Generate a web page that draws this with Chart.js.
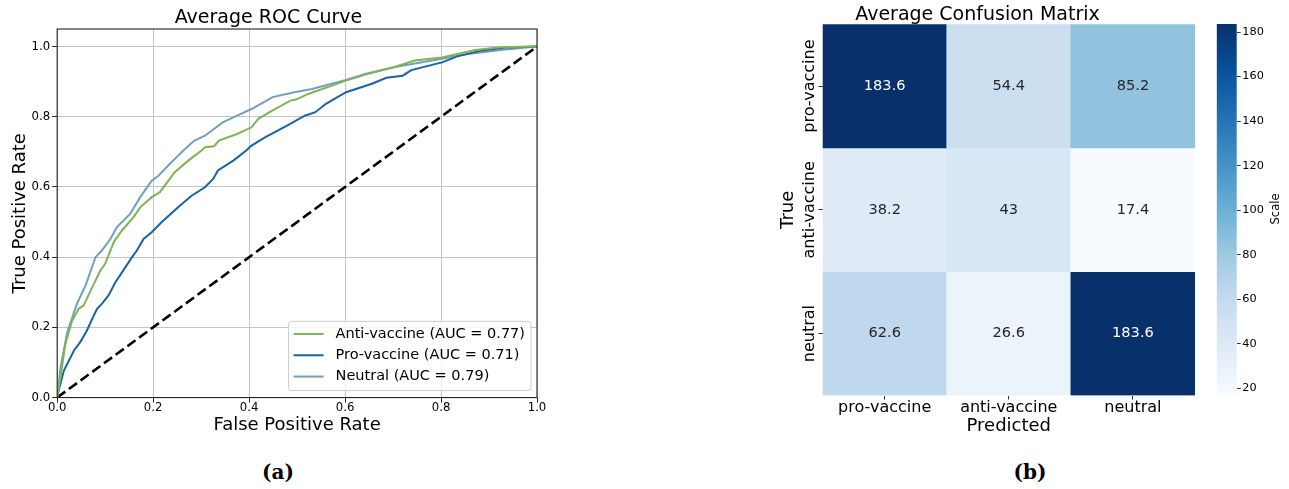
<!DOCTYPE html>
<html>
<head>
<meta charset="utf-8">
<script src="https://cdn.jsdelivr.net/npm/chart.js@4.4.1/dist/chart.umd.min.js"></script>
<style>
    body { margin: 0; width: 1289px; height: 489px; background: #fff; position: relative; overflow: hidden; }
    .box { position: absolute; }
    .cap { position: absolute; font-family: "DejaVu Serif"; font-weight: bold; font-size: 20px; transform: translate(-50%, -50%); }
</style>
</head>
<body>
<div class="box" style="left:0;top:0;width:560px;height:437px"><canvas id="rocChart"></canvas></div>
<div class="box" style="left:760px;top:0;width:445px;height:440px"><canvas id="cmChart"></canvas></div>
<div class="box" style="left:1205px;top:0;width:84px;height:440px"><canvas id="scaleChart"></canvas></div>
<div class="cap" style="left:278px;top:472px">(a)</div>
<div class="cap" style="left:1030px;top:472px">(b)</div>

<script>
// ==========================
// Data
// ==========================

const rocClasses = ["Anti-vaccine", "Pro-vaccine", "Neutral"];
const rocAuc = [0.77, 0.71, 0.79];

const antiFpr = [0, 0.007, 0.017, 0.031, 0.045, 0.055, 0.073, 0.090, 0.100, 0.118, 0.135, 0.159, 0.173, 0.197, 0.214, 0.245, 0.273, 0.301, 0.308, 0.327, 0.337, 0.375, 0.405, 0.419, 0.449, 0.486, 0.498, 0.523, 0.602, 0.642, 0.701, 0.745, 0.802, 0.871, 0.923, 1];
const antiTpr = [0, 0.058, 0.153, 0.219, 0.253, 0.262, 0.314, 0.362, 0.381, 0.443, 0.476, 0.514, 0.542, 0.571, 0.585, 0.642, 0.675, 0.704, 0.713, 0.716, 0.732, 0.751, 0.770, 0.794, 0.818, 0.846, 0.849, 0.865, 0.903, 0.920, 0.941, 0.960, 0.969, 0.990, 0.998, 1];

const proFpr = [0, 0.003, 0.014, 0.035, 0.048, 0.062, 0.073, 0.083, 0.093, 0.107, 0.121, 0.131, 0.156, 0.166, 0.180, 0.197, 0.218, 0.252, 0.280, 0.308, 0.325, 0.335, 0.367, 0.394, 0.405, 0.434, 0.479, 0.516, 0.538, 0.560, 0.602, 0.656, 0.686, 0.720, 0.738, 0.802, 0.834, 0.879, 0.935, 1];
const proTpr = [0, 0.020, 0.077, 0.134, 0.158, 0.191, 0.224, 0.253, 0.267, 0.291, 0.328, 0.348, 0.400, 0.419, 0.452, 0.471, 0.500, 0.542, 0.575, 0.599, 0.623, 0.647, 0.675, 0.704, 0.718, 0.742, 0.775, 0.803, 0.813, 0.837, 0.870, 0.894, 0.911, 0.917, 0.933, 0.955, 0.972, 0.987, 0.997, 1];

const neutralFpr = [0, 0.007, 0.021, 0.041, 0.059, 0.080, 0.093, 0.111, 0.124, 0.152, 0.173, 0.197, 0.211, 0.235, 0.249, 0.263, 0.286, 0.308, 0.345, 0.375, 0.405, 0.449, 0.494, 0.531, 0.602, 0.642, 0.701, 0.802, 0.849, 0.923, 1];
const neutralTpr = [0, 0.086, 0.186, 0.267, 0.319, 0.400, 0.419, 0.452, 0.485, 0.523, 0.571, 0.618, 0.632, 0.666, 0.685, 0.704, 0.732, 0.746, 0.784, 0.803, 0.822, 0.856, 0.870, 0.879, 0.905, 0.922, 0.941, 0.965, 0.977, 0.990, 1];

const chanceLine = [0, 1];
const rocXTicks = [0, 0.2, 0.4, 0.6, 0.8, 1.0];
const rocYTicks = [0, 0.2, 0.4, 0.6, 0.8, 1.0];

const predictedLabels = ["pro-vaccine", "anti-vaccine", "neutral"];
const trueLabels = ["pro-vaccine", "anti-vaccine", "neutral"];
const cmProRow = [183.6, 54.4, 85.2];
const cmAntiRow = [38.2, 43, 17.4];
const cmNeutralRow = [62.6, 26.6, 183.6];
const colorbarTicks = [20, 40, 60, 80, 100, 120, 140, 160, 180];

// ==========================
// Helpers
// ==========================

const FONT = "'DejaVu Sans', sans-serif";
Chart.defaults.font.family = FONT;
Chart.defaults.color = "#000";
Chart.defaults.animation = false;

const bluesStops = ["#f7fbff", "#deebf7", "#c6dbef", "#9ecae1", "#6baed6", "#4292c6", "#2171b5", "#08519c", "#08306b"];

function hexRgb(h) {
    return [1, 3, 5].map(i => parseInt(h.slice(i, i + 2), 16));
}

function blues(t) {
    t = Math.min(1, Math.max(0, t));
    const pos = t * (bluesStops.length - 1);
    const i = Math.min(bluesStops.length - 2, Math.floor(pos));
    const f = pos - i;
    const a = hexRgb(bluesStops[i]);
    const b = hexRgb(bluesStops[i + 1]);
    return a.map((c, k) => Math.round(c + (b[k] - c) * f));
}

function rgbStr(c) {
    return "rgb(" + c.join(",") + ")";
}

function luminance(c) {
    const l = c.map(v => {
        v /= 255;
        return v <= 0.03928 ? v / 12.92 : Math.pow((v + 0.055) / 1.055, 2.4);
    });
    return 0.2126 * l[0] + 0.7152 * l[1] + 0.0722 * l[2];
}

function toPoints(xs, ys) {
    return xs.map((x, i) => ({ x: x, y: ys[i] }));
}

// ==========================
// ROC Curve
// ==========================

const rocFrame = {
    id: "rocFrame",
    afterDatasetsDraw(chart) {
        const { ctx, chartArea: a } = chart;
        ctx.save();
        ctx.strokeStyle = "#222";
        ctx.lineWidth = 1.1;
        ctx.strokeRect(a.left, a.top, a.right - a.left, a.bottom - a.top);

        // legend box in the lower right
        ctx.font = "14.5px " + FONT;
        const items = chart.data.datasets.filter(d => !d.noLegend);
        const textW = Math.max(...items.map(d => ctx.measureText(d.label).width));
        const rowH = 21.3;
        const w = 47 + textW + 6;
        const h = 12.6 + rowH * (items.length - 1) + 14;
        const x = a.right - 6 - w;
        const y = a.bottom - 7 - h;
        ctx.beginPath();
        ctx.roundRect(x, y, w, h, 3);
        ctx.fillStyle = "rgba(255,255,255,0.8)";
        ctx.fill();
        ctx.strokeStyle = "#cccccc";
        ctx.lineWidth = 1;
        ctx.stroke();
        items.forEach((d, i) => {
            const cy = y + 12.6 + i * rowH;
            ctx.beginPath();
            ctx.moveTo(x + 5, cy);
            ctx.lineTo(x + 35, cy);
            ctx.strokeStyle = d.borderColor;
            ctx.lineWidth = 2;
            ctx.stroke();
            ctx.fillStyle = "#000";
            ctx.textBaseline = "middle";
            ctx.textAlign = "left";
            ctx.fillText(d.label, x + 47, cy);
        });
        ctx.restore();
    }
};

const rocColors = ["#7fb356", "#1a63a5", "#729fbb"];
const rocSeries = [
    toPoints(antiFpr, antiTpr),
    toPoints(proFpr, proTpr),
    toPoints(neutralFpr, neutralTpr)
];

new Chart(document.getElementById("rocChart"), {
    type: "line",
    data: {
        datasets: rocSeries.map((pts, i) => ({
            label: rocClasses[i] + " (AUC = " + rocAuc[i].toFixed(2) + ")",
            data: pts,
            borderColor: rocColors[i],
            borderWidth: 2,
            pointRadius: 0,
            tension: 0
        })).concat([{
            label: "chance",
            noLegend: true,
            data: toPoints(chanceLine, chanceLine),
            borderColor: "#000",
            borderWidth: 2.6,
            borderDash: [10, 4.5],
            pointRadius: 0
        }])
    },
    options: {
        responsive: true,
        maintainAspectRatio: false,
        layout: { padding: { left: 0, right: 23, top: 0, bottom: 0.7 } },
        plugins: {
            legend: { display: false },
            tooltip: { enabled: false },
            title: {
                display: true,
                text: "Average ROC Curve",
                color: "#000",
                font: { size: 19, weight: "normal" },
                padding: { top: 6.6, bottom: -0.4 }
            }
        },
        scales: {
            x: {
                type: "linear",
                min: 0,
                max: 1,
                afterBuildTicks: s => { s.ticks = rocXTicks.map(v => ({ value: v })); },
                ticks: { font: { size: 11.7 }, padding: -1.3, maxRotation: 0, callback: v => v.toFixed(1) },
                grid: { color: "#c4c4c4", tickColor: "#222", tickLength: 5 },
                border: { display: false },
                title: { display: true, text: "False Positive Rate", font: { size: 18 }, padding: { top: 0.7, bottom: 0 } }
            },
            y: {
                type: "linear",
                min: 0,
                max: 1.05,
                afterBuildTicks: s => { s.ticks = rocYTicks.map(v => ({ value: v })); },
                ticks: { font: { size: 11.7 }, padding: 2, callback: v => v.toFixed(1) },
                grid: { color: "#c4c4c4", tickColor: "#222", tickLength: 5 },
                border: { display: false },
                title: { display: true, text: "True Positive Rate", font: { size: 18 }, padding: { top: 9.5, bottom: -1.5 } }
            }
        }
    },
    plugins: [rocFrame]
});

// ==========================
// Confusion Matrix
// ==========================

const cmRows = [cmProRow, cmAntiRow, cmNeutralRow];
const cmMin = Math.min(...cmRows.flat());
const cmMax = Math.max(...cmRows.flat());
const cellColor = v => blues((v - cmMin) / (cmMax - cmMin));

const cmText = {
    id: "cmText",
    afterDatasetsDraw(chart) {
        const { ctx, chartArea: a } = chart;
        ctx.save();
        ctx.textAlign = "center";
        ctx.textBaseline = "middle";
        ctx.font = "14.6px " + FONT;
        chart.data.datasets.forEach((ds, i) => {
            chart.getDatasetMeta(i).data.forEach((el, j) => {
                const v = cmRows[i][j];
                ctx.fillStyle = luminance(cellColor(v)) > 0.408 ? "#262626" : "#fff";
                ctx.fillText(String(v), el.x, (el.y + el.base) / 2);
            });
        });

        // row labels, rotated like the reference
        const yScale = chart.scales.y;
        ctx.font = "16px " + FONT;
        ctx.fillStyle = "#000";
        yScale.ticks.forEach((t, i) => {
            ctx.save();
            ctx.translate(a.left - 12.6, yScale.getPixelForValue(t.value));
            ctx.rotate(-Math.PI / 2);
            ctx.fillText(trueLabels[i], 0, 0);
            ctx.restore();
        });
        ctx.restore();
    }
};

new Chart(document.getElementById("cmChart"), {
    type: "bar",
    data: {
        labels: predictedLabels,
        datasets: cmRows.map((row, i) => ({
            label: trueLabels[i],
            data: row.map(() => [i, i + 1]),
            backgroundColor: row.map(v => rgbStr(cellColor(v))),
            borderWidth: 0,
            barPercentage: 1,
            categoryPercentage: 1,
            grouped: false
        }))
    },
    options: {
        responsive: true,
        maintainAspectRatio: false,
        layout: { padding: { left: 0, right: 10, top: 0, bottom: 2.7 } },
        plugins: {
            legend: { display: false },
            tooltip: { enabled: false },
            title: {
                display: true,
                text: "Average Confusion Matrix",
                color: "#000",
                font: { size: 19, weight: "normal" },
                padding: { top: 3.6, bottom: -2.2 }
            }
        },
        scales: {
            x: {
                type: "category",
                offset: true,
                ticks: { font: { size: 16 }, padding: -1.5, maxRotation: 0 },
                grid: { offset: false, drawOnChartArea: false, tickLength: 4, tickColor: "#333" },
                border: { display: false },
                title: { display: true, text: "Predicted", font: { size: 18 }, padding: { top: 0, bottom: 0 } }
            },
            y: {
                type: "linear",
                min: 0,
                max: trueLabels.length,
                reverse: true,
                afterBuildTicks: s => { s.ticks = trueLabels.map((l, i) => ({ value: i + 0.5 })); },
                ticks: { display: false },
                grid: { drawOnChartArea: false, tickLength: 4, tickColor: "#333" },
                border: { display: false },
                title: { display: true, text: "True", font: { size: 18 }, padding: { top: 18, bottom: 19 } }
            }
        }
    },
    plugins: [cmText]
});

// ==========================
// Colour Scale
// ==========================

const scaleTitle = {
    id: "scaleTitle",
    afterDraw(chart) {
        const { ctx, chartArea: a } = chart;
        ctx.save();
        ctx.font = "11.5px " + FONT;
        ctx.fillStyle = "#000";
        ctx.textAlign = "center";
        ctx.textBaseline = "middle";
        ctx.translate(chart.width - 13, (a.top + a.bottom) / 2);
        ctx.rotate(-Math.PI / 2);
        ctx.fillText("Scale", 0, 0);
        ctx.restore();
    }
};

new Chart(document.getElementById("scaleChart"), {
    type: "bar",
    data: {
        labels: ["scale"],
        datasets: [{
            data: [[cmMin, cmMax]],
            borderWidth: 0,
            barPercentage: 1,
            categoryPercentage: 1,
            backgroundColor: c => {
                const area = c.chart.chartArea;
                if (!area) return rgbStr(blues(0.5));
                const g = c.chart.ctx.createLinearGradient(0, area.bottom, 0, area.top);
                bluesStops.forEach((col, i) => g.addColorStop(i / (bluesStops.length - 1), col));
                return g;
            }
        }]
    },
    options: {
        responsive: true,
        maintainAspectRatio: false,
        layout: { padding: { left: 11.7, right: 24.7, top: 24, bottom: 46 } },
        plugins: { legend: { display: false }, tooltip: { enabled: false } },
        scales: {
            x: { display: false },
            y: {
                position: "right",
                min: cmMin,
                max: cmMax,
                afterBuildTicks: s => { s.ticks = colorbarTicks.map(v => ({ value: v })); },
                afterFit: s => { s.width = 27.6; },
                ticks: { font: { size: 11.3 }, padding: 1.6 },
                grid: { drawOnChartArea: false, tickLength: 4, tickColor: "#333" },
                border: { display: false }
            }
        }
    },
    plugins: [scaleTitle]
});
</script>
</body>
</html>
